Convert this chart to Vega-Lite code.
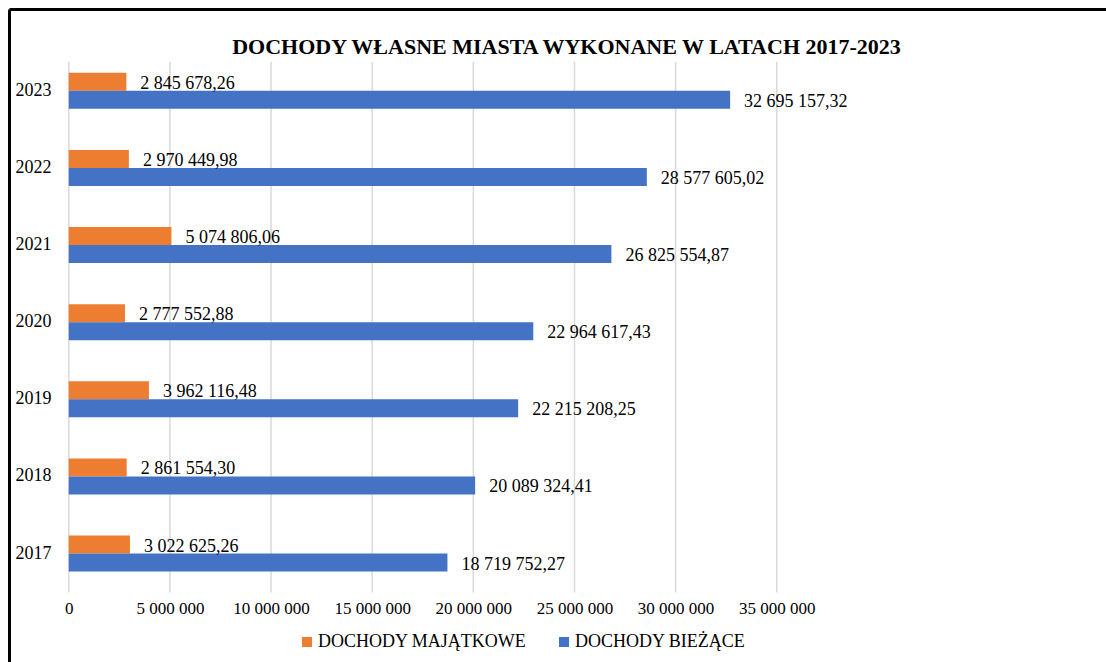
{
  "$schema": "https://vega.github.io/schema/vega-lite/v6.json",
  "width": 1097,
  "height": 653,
  "autosize": {"type": "none"},
  "padding": {"left": 9, "top": 9, "right": 0, "bottom": 0},
  "background": "white",
  "config": {
    "view": {"stroke": null},
    "font": "Liberation Serif",
    "locale": {"number": {"decimal": ",", "thousands": " ", "grouping": [3], "currency": ["", " zł"]}}
  },
  "title": {
    "text": "DOCHODY WŁASNE MIASTA WYKONANE W LATACH 2017-2023",
    "font": "Liberation Serif",
    "fontSize": 22,
    "fontWeight": "bold",
    "color": "black",
    "anchor": "middle",
    "frame": "group",
    "offset": 0,
    "dx": 9,
    "dy": 50
  },
  "datasets": {
    "dochody": [
      {"year": "2023", "series": "DOCHODY MAJĄTKOWE", "value": 2845678.26},
      {"year": "2023", "series": "DOCHODY BIEŻĄCE", "value": 32695157.32},
      {"year": "2022", "series": "DOCHODY MAJĄTKOWE", "value": 2970449.98},
      {"year": "2022", "series": "DOCHODY BIEŻĄCE", "value": 28577605.02},
      {"year": "2021", "series": "DOCHODY MAJĄTKOWE", "value": 5074806.06},
      {"year": "2021", "series": "DOCHODY BIEŻĄCE", "value": 26825554.87},
      {"year": "2020", "series": "DOCHODY MAJĄTKOWE", "value": 2777552.88},
      {"year": "2020", "series": "DOCHODY BIEŻĄCE", "value": 22964617.43},
      {"year": "2019", "series": "DOCHODY MAJĄTKOWE", "value": 3962116.48},
      {"year": "2019", "series": "DOCHODY BIEŻĄCE", "value": 22215208.25},
      {"year": "2018", "series": "DOCHODY MAJĄTKOWE", "value": 2861554.30},
      {"year": "2018", "series": "DOCHODY BIEŻĄCE", "value": 20089324.41},
      {"year": "2017", "series": "DOCHODY MAJĄTKOWE", "value": 3022625.26},
      {"year": "2017", "series": "DOCHODY BIEŻĄCE", "value": 18719752.27}
    ],
    "siatka": [
      {"tick": 0}, {"tick": 5000000}, {"tick": 10000000}, {"tick": 15000000},
      {"tick": 20000000}, {"tick": 25000000}, {"tick": 30000000}, {"tick": 35000000}
    ]
  },
  "data": {"name": "dochody"},
  "resolve": {"axis": {"x": "independent"}},
  "layer": [
    {
      "data": {"name": "siatka"},
      "mark": {"type": "rule", "color": "#D9D9D9", "strokeWidth": 1.5, "yOffset": -29, "y2Offset": 39},
      "encoding": {
        "x": {"field": "tick", "type": "quantitative", "axis": null},
        "y": {"datum": "2023", "type": "nominal"},
        "y2": {"datum": "2017"}
      }
    },
    {
      "mark": {"type": "bar"},
      "encoding": {
        "y": {
          "field": "year",
          "type": "nominal",
          "scale": {
            "domain": ["2023", "2022", "2021", "2020", "2019", "2018", "2017"],
            "paddingInner": 0.5333,
            "paddingOuter": 1.12,
            "align": 0.4137,
            "round": false
          },
          "axis": {
            "orient": "left",
            "title": null,
            "domain": true,
            "domainColor": "black",
            "domainWidth": 3,
            "ticks": false,
            "tickSize": 0,
            "grid": false,
            "labelAlign": "left",
            "labelBaseline": "middle",
            "labelPadding": -6,
            "labelFont": "Liberation Serif",
            "labelFontSize": 18,
            "labelColor": "black"
          }
        },
        "yOffset": {
          "field": "series",
          "type": "nominal",
          "scale": {"domain": ["DOCHODY MAJĄTKOWE", "DOCHODY BIEŻĄCE"], "paddingInner": 0, "paddingOuter": 0}
        },
        "x": {
          "field": "value",
          "type": "quantitative",
          "scale": {"domain": [-2956000, 51278000], "nice": false, "zero": false},
          "axis": {
            "orient": "bottom",
            "title": null,
            "offset": -54,
            "domain": false,
            "ticks": false,
            "tickSize": 0,
            "grid": false,
            "values": [0, 5000000, 10000000, 15000000, 20000000, 25000000, 30000000, 35000000],
            "format": ",.0f",
            "labelFont": "Liberation Serif",
            "labelFontSize": 17,
            "labelColor": "black",
            "labelPadding": 0,
            "labelBaseline": "middle",
            "labelFlush": false,
            "labelOverlap": false
          }
        },
        "x2": {"datum": 0},
        "color": {
          "field": "series",
          "type": "nominal",
          "scale": {"domain": ["DOCHODY MAJĄTKOWE", "DOCHODY BIEŻĄCE"], "range": ["#ED7D31", "#4472C4"]},
          "legend": {
            "orient": "none",
            "legendX": 289,
            "legendY": 624,
            "direction": "horizontal",
            "title": null,
            "symbolType": "square",
            "symbolSize": 100,
            "symbolStrokeWidth": 0,
            "labelFont": "Liberation Serif",
            "labelFontSize": 18,
            "labelColor": "black",
            "labelOffset": 2,
            "columnPadding": 28,
            "padding": 0,
            "labelLimit": 400
          }
        }
      }
    },
    {
      "mark": {"type": "text", "align": "left", "baseline": "middle", "dx": 14, "dy": 2, "font": "Liberation Serif", "fontSize": 18, "color": "black"},
      "encoding": {
        "y": {"field": "year", "type": "nominal"},
        "yOffset": {"field": "series", "type": "nominal"},
        "x": {
          "field": "value",
          "type": "quantitative",
          "axis": {
            "orient": "top",
            "title": null,
            "domain": true,
            "domainColor": "black",
            "domainWidth": 3,
            "labels": false,
            "ticks": false,
            "grid": false
          }
        },
        "text": {"field": "value", "type": "quantitative", "format": ",.2f"}
      }
    }
  ]
}
